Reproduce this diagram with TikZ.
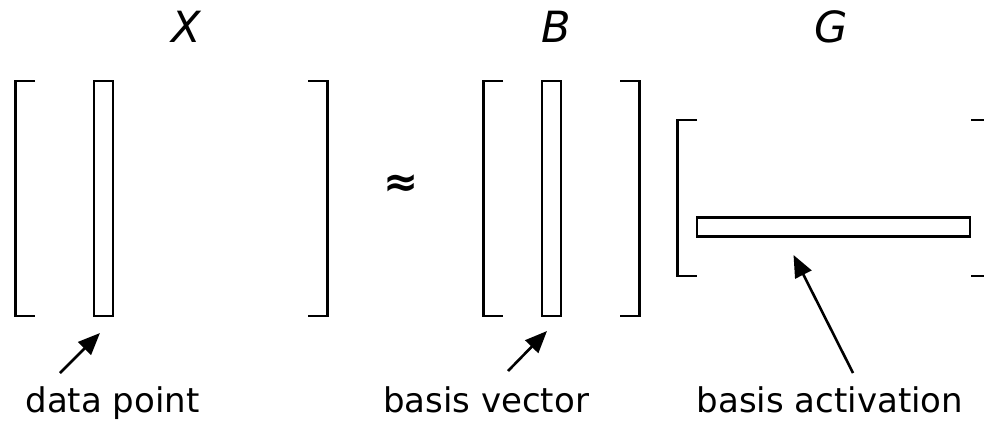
\documentclass[tikz,border=0pt]{standalone}
\usepackage{fontspec}
\setmainfont{DejaVu Sans}
\usetikzlibrary{arrows.meta}
\tikzset{
  lw/.style={line width=2.9pt, line cap=butt, line join=miter},
  lbl/.style={inner sep=0pt, anchor=base, font=\fontsize{34}{40}\selectfont},
  mlbl/.style={inner sep=0pt, anchor=base, font=\fontsize{43}{48}\selectfont\itshape},
  ptr/.style={line width=2.6pt, -{Triangle[length=22pt,width=18pt]}, shorten >=0pt}
}
\begin{document}
\begin{tikzpicture}[x=1pt,y=-1pt]
\clip (0,0) rectangle (984,420);
\fill[white] (0,0) rectangle (984,420);
% matrix labels
\node[mlbl] (lX) at (186,43) {X};
\node[mlbl] (lB) at (556,43) {B};
\node[mlbl] (lG) at (831,43) {G};
% approx
\node[inner sep=0pt, font=\fontsize{42}{48}\selectfont\bfseries] (approx) at (401,186) {≈};
% X matrix
\draw[lw] (35,81) -- (15.5,81) -- (15.5,316) -- (35,316);
\draw[lw] (308,81) -- (327.5,81) -- (327.5,316) -- (308,316);
\draw[lw] (94,81) rectangle (113,316);
% B matrix
\draw[lw] (503,81) -- (483.5,81) -- (483.5,316) -- (503,316);
\draw[lw] (620,81) -- (639.5,81) -- (639.5,316) -- (620,316);
\draw[lw] (542,81) rectangle (561,316);
% G matrix
\draw[lw] (697,120) -- (677.5,120) -- (677.5,276) -- (697,276);
\draw[lw] (971,120) -- (990,120) -- (990,276) -- (971,276);
\draw[lw] (697,217.5) rectangle (970,236.5);
% text labels
\node[lbl] (tdp) at (112.5,412) {data point};
\node[lbl] (tbv) at (486,412) {basis vector};
\node[lbl] (tba) at (830,412) {basis activation};
% arrows
\coordinate (a1s) at (60,373);
\coordinate (a1e) at (100,333);
\coordinate (a2s) at (508,371);
\coordinate (a2e) at (547,331);
\coordinate (a3s) at (853,373);
\coordinate (a3e) at (793.5,255);
\draw[ptr] (a1s) -- (a1e);
\draw[ptr] (a2s) -- (a2e);
\draw[ptr] (a3s) -- (a3e);
\end{tikzpicture}
\end{document}
